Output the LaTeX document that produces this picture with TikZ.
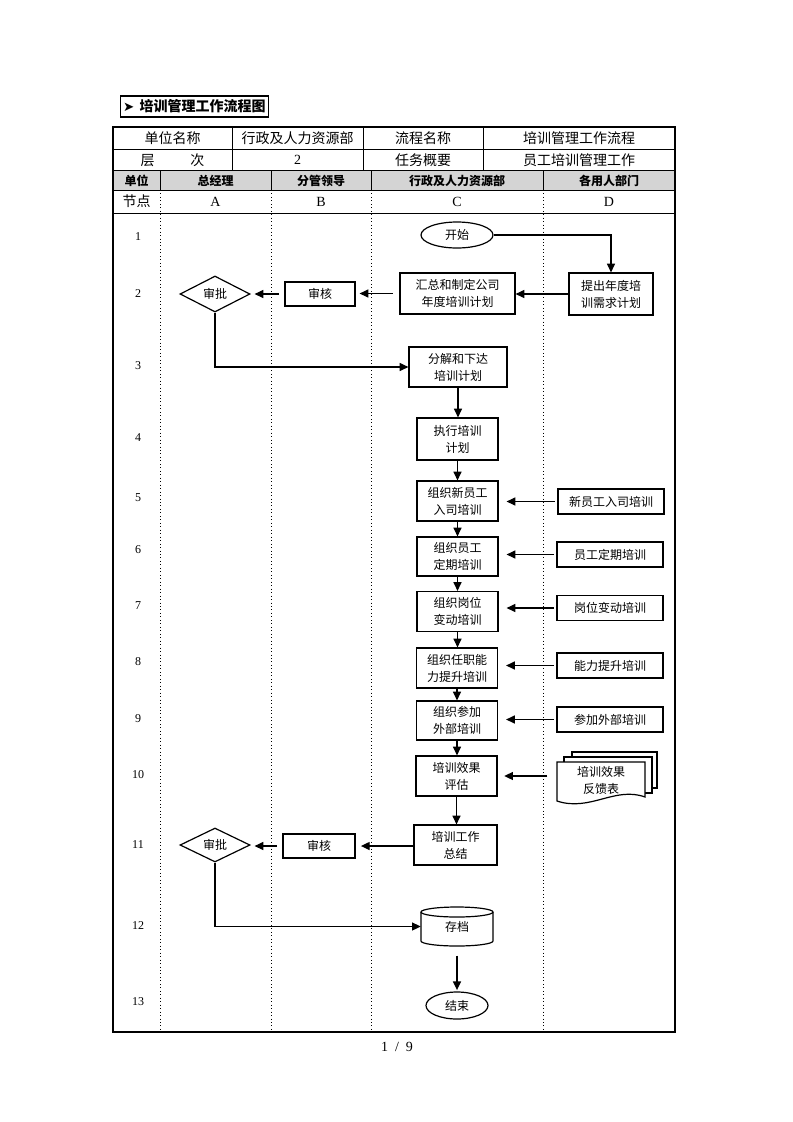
\documentclass[tikz,border=0pt]{standalone}
\usepackage{fontspec}
\setmainfont{Liberation Serif}
\newfontfamily\cjk{Noto Sans CJK SC}
\newfontfamily\sym{DejaVu Sans}
\usetikzlibrary{arrows.meta,shapes.geometric}
\tikzset{
  sz/.style 2 args={minimum width={#1*0.75pt}, minimum height={#2*0.75pt}},
  box/.style={draw, line width=0.9pt, inner sep=0pt, align=center, font=\cjk\fontsize{9}{12.75}\selectfont},
  plain/.style={inner sep=0pt, align=center, font=\cjk\fontsize{9}{12.75}\selectfont},
  flow/.style={-{Triangle[length=6.5pt,width=6pt]}, line width=0.9pt},
  tt/.style={inner sep=0pt, font=\cjk\fontsize{10.5}{12}\selectfont},
  th/.style={inner sep=0pt, font=\cjk\bfseries\fontsize{9}{11}\selectfont},
  tn/.style={inner sep=0pt, font=\fontsize{10.5}{12}\selectfont},
  num/.style={inner sep=0pt, font=\fontsize{9}{11}\selectfont},
  grid/.style={line width=0.6pt},
  lane/.style={line width=0.6pt, dotted},
}
\begin{document}
\begin{tikzpicture}[x=0.75pt,y=-0.75pt]
\useasboundingbox (0,0) rectangle (793,1122);
\fill[white] (0,0) rectangle (793,1122);

% title
\node[draw, line width=0.8pt, inner xsep=2pt, inner ysep=0pt, anchor=west, minimum height={21*0.75pt}] (title) at (120,106.5)
  {{\sym\fontsize{10}{10}\selectfont ➤}\hspace{4pt}{\cjk\bfseries\fontsize{10.5}{12}\selectfont 培训管理工作流程图}};

% table
\fill[black!17] (113,170) rectangle (675,190);
\draw[grid] (113,149) -- (675,149);
\draw[grid] (113,170) -- (675,170);
\draw[grid] (113,190) -- (675,190);
\draw[grid] (113,213) -- (675,213);
\foreach \x in {232,363,483} \draw[grid] (\x,127) -- (\x,170);
\foreach \x in {160,271,371,543} {
  \draw[grid] (\x,170) -- (\x,190);
  \draw[lane] (\x,190) -- (\x,1032);
}
\draw[line width=0.9pt] (113,127) rectangle (675,1032);

\node[tt] (h1) at (172.5,138.5) {单位名称};
\node[tt] (h2) at (297.5,138.5) {行政及人力资源部};
\node[tt] (h3) at (423,138.5) {流程名称};
\node[tt] (h4) at (579,138.5) {培训管理工作流程};
\node[tt] (h5) at (172.5,160) {层\hspace{27pt}次};
\node[tn] (h6) at (297.5,160) {2};
\node[tt] (h7) at (423,160) {任务概要};
\node[tt] (h8) at (579,160) {员工培训管理工作};

\node[th] (c0) at (136.5,180.5) {单位};
\node[th] (c1) at (215.5,180.5) {总经理};
\node[th] (c2) at (321,180.5) {分管领导};
\node[th] (c3) at (457,180.5) {行政及人力资源部};
\node[th] (c4) at (609,180.5) {各用人部门};

\node[tt] (d0) at (136.5,201.5) {节点};
\node[tn] (d1) at (215.5,201.5) {A};
\node[tn] (d2) at (321,201.5) {B};
\node[tn] (d3) at (457,201.5) {C};
\node[tn] (d4) at (609,201.5) {D};

% row numbers
\node[num] (r1) at (138,237) {1};
\node[num] (r2) at (138,294) {2};
\node[num] (r3) at (138,366) {3};
\node[num] (r4) at (138,438) {4};
\node[num] (r5) at (138,498) {5};
\node[num] (r6) at (138,550) {6};
\node[num] (r7) at (138,606) {7};
\node[num] (r8) at (138,662) {8};
\node[num] (r9) at (138,719) {9};
\node[num] (r10) at (138,775) {10};
\node[num] (r11) at (138,845) {11};
\node[num] (r12) at (138,926) {12};
\node[num] (r13) at (138,1002) {13};

% nodes
\node[box, ellipse, sz={72}{26}] (start) at (457,235) {开始};
\node[box, sz={84}{42}] (n2D) at (611,294) {提出年度培\\训需求计划};
\node[box, sz={115}{41}] (n2C) at (457.5,293.5) {汇总和制定公司\\年度培训计划};
\node[box, sz={70}{24}] (n2B) at (320,294) {审核};
\node[box, diamond, aspect=2, sz={70}{36}] (n2A) at (215,294) {审批};
\node[box, sz={98}{40}] (n3C) at (458,367) {分解和下达\\培训计划};
\node[box, sz={81}{42}] (n4C) at (457.5,439) {执行培训\\计划};
\node[box, sz={81}{40}] (n5C) at (457.5,501) {组织新员工\\入司培训};
\node[box, sz={106}{25}] (n5D) at (611,501.5) {新员工入司培训};
\node[box, sz={81}{39}] (n6C) at (457.5,556.5) {组织员工\\定期培训};
\node[box, sz={106}{25}] (n6D) at (610,554.5) {员工定期培训};
\node[box, sz={81}{40}] (n7C) at (457.5,611.5) {组织岗位\\变动培训};
\node[box, sz={106}{25}] (n7D) at (610,608) {岗位变动培训};
\node[box, sz={81}{40}] (n8C) at (457,668) {组织任职能\\力提升培训};
\node[box, sz={106}{25}] (n8D) at (610,665.5) {能力提升培训};
\node[box, sz={81}{39}] (n9C) at (457,720.5) {组织参加\\外部培训};
\node[box, sz={106}{25}] (n9D) at (610,719.5) {参加外部培训};
\node[box, sz={81}{40}] (n10C) at (456.5,776) {培训效果\\评估};

% multi-document
\filldraw[fill=white, line width=0.9pt] (572,752) rectangle (657,788);
\filldraw[fill=white, line width=0.9pt] (564,757) rectangle (652,793);
\filldraw[fill=white, line width=0.9pt] (557,762) -- (645,762) -- (645,797)
  .. controls (615,786) and (590,812) .. (557,801) -- cycle;
\node[plain, sz={88}{40}] (n10D) at (601,780) {培训效果\\反馈表};

\node[box, sz={83}{40}] (n11C) at (455.5,845) {培训工作\\总结};
\node[box, sz={72}{24}] (n11B) at (319,846) {审核};
\node[box, diamond, aspect=2, sz={70}{34}] (n11A) at (215,845) {审批};

% cylinder
\node[plain, sz={72}{39}] (n12C) at (457,926.5) {存档};
\draw[line width=0.9pt] (421,912) -- (421,941) arc[start angle=180, end angle=0, x radius=36, y radius=5] -- (493,912);
\draw[line width=0.9pt] (457,912) ellipse [x radius=36, y radius=5];

\node[box, ellipse, sz={62}{27}] (n13C) at (457,1005.5) {结束};

% footer
\node[tn] (pg) at (397,1047) {1\ \ /\ \ 9};

% connectors
\draw[flow] (start.east) -| (n2D.north);
\draw[flow] (n2D.west) -- (n2D.west -| n2C.east);
\draw[flow, shorten <=5pt, shorten >=3pt] (n2C.west) -- (n2C.west -| n2B.east);
\draw[flow, shorten <=4pt, shorten >=3pt] (n2B.west) -- (n2B.west -| n2A.east);
\draw[flow] (n2A.south) |- (n3C.west);
\draw[flow] (n3C.south) -- (n3C.south |- n4C.north);
\draw[flow] (n4C.south) -- (n4C.south |- n5C.north);
\draw[flow] (n5C.south) -- (n5C.south |- n6C.north);
\draw[flow] (n6C.south) -- (n6C.south |- n7C.north);
\draw[flow] (n7C.south) -- (n7C.south |- n8C.north);
\draw[flow] (n8C.south) -- (n8C.south |- n9C.north);
\draw[flow] (n9C.south) -- (n9C.south |- n10C.north);
\draw[flow] (n10C.south) -- (n10C.south |- n11C.north);
\draw[flow, shorten <=2pt, shorten >=6pt] (n5D.west) -- (n5D.west -| n5C.east);
\draw[flow, shorten <=2pt, shorten >=6pt] (n6D.west) -- (n6D.west -| n6C.east);
\draw[flow, shorten <=2pt, shorten >=6pt] (n7D.west) -- (n7D.west -| n7C.east);
\draw[flow, shorten <=2pt, shorten >=6pt] (n8D.west) -- (n8D.west -| n8C.east);
\draw[flow, shorten <=2pt, shorten >=6pt] (n9D.west) -- (n9D.west -| n9C.east);
\draw[flow, shorten <=7pt, shorten >=5pt] (n10D.west |- n10C.east) -- (n10C.east);
\draw[flow, shorten >=4pt] (n11C.west |- n11B.east) -- (n11B.east);
\draw[flow, shorten <=4pt, shorten >=3pt] (n11B.west) -- (n11B.west -| n11A.east);
\draw[flow] (n11A.south) |- (n12C.west);
\draw[flow, shorten <=7pt, shorten >=1pt] (n12C.south) -- (n12C.south |- n13C.north);
\end{tikzpicture}
\end{document}
